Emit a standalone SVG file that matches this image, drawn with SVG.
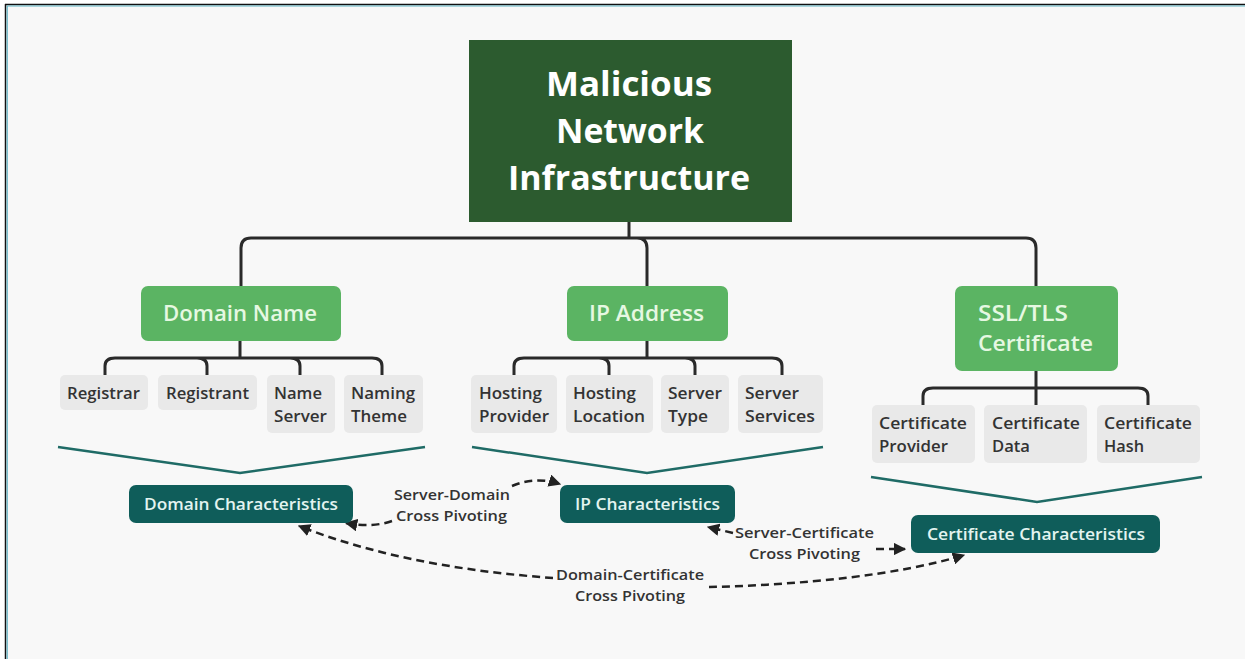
<svg xmlns="http://www.w3.org/2000/svg" width="1245" height="659" viewBox="0 0 1245 659">
<defs>
<style>
.bg{fill:#f8f8f8}
.tree{fill:none;stroke:#2a2a2a;stroke-width:3;stroke-linecap:round;stroke-linejoin:round}
.chev{fill:none;stroke:#1f6b66;stroke-width:2.5}
.dash{fill:none;stroke:#222;stroke-width:2.5;stroke-dasharray:8 5}
.main{fill:#2c5b2f}
.cat{fill:#5bb463}
.leaf{fill:#e9e9e9}
.tea{fill:#0f5d5a}
.tmain{font-family:"Open Sans","Liberation Sans",sans-serif;font-weight:700;font-size:34px;fill:#ffffff;text-anchor:middle}
.tcat{font-family:"Open Sans","Liberation Sans",sans-serif;font-weight:600;font-size:21px;fill:#e6f8e2}
.tleaf{font-family:"Open Sans","Liberation Sans",sans-serif;font-weight:600;font-size:16.5px;fill:#333}
.ttea{font-family:"Open Sans","Liberation Sans",sans-serif;font-weight:600;font-size:16px;fill:#e3f4f0}
.tlab{font-family:"Open Sans","Liberation Sans",sans-serif;font-weight:600;font-size:14.5px;fill:#333}
</style>
<marker id="ah" viewBox="0 0 10 10" refX="9" refY="5" markerWidth="5" markerHeight="5" orient="auto-start-reverse" markerUnits="strokeWidth">
<path d="M0,0 L10,5 L0,10 z" fill="#222"/>
</marker>
</defs>
<rect x="0" y="0" width="1245" height="659" fill="#ffffff"/>
<rect x="6" y="4" width="1239" height="655" class="bg"/>
<line x1="5" y1="4.5" x2="1245" y2="4.5" stroke="#111" stroke-width="1.5"/>
<line x1="7" y1="6" x2="1245" y2="6" stroke="#5fb3c4" stroke-width="1.2"/>
<line x1="5.5" y1="4" x2="5.5" y2="659" stroke="#111" stroke-width="1.5"/>
<line x1="7.2" y1="6" x2="7.2" y2="659" stroke="#5fb3c4" stroke-width="1.2"/>

<g id="connectors">
<path class="tree" d="M629,222 V238 M251,238 H1026 Q1036,238 1036,248 V286 M251,238 Q241,238 241,248 V286 M637,238 Q647,238 647,248 V286"/>
<path class="tree" d="M240,341 V358 M115,358 H372 Q382,358 382,366 V375 M115,358 Q105,358 105,366 V375 M197,358 Q207,358 207,366 V375 M290,358 Q300,358 300,366 V375"/>
<path class="tree" d="M647,341 V358 M524,358 H772 Q782,358 782,366 V375 M524,358 Q514,358 514,366 V375 M599,358 Q609,358 609,366 V375 M685,358 Q695,358 695,366 V375"/>
<path class="tree" d="M1036,371 V405 M933,388 H1138 Q1148,388 1148,396 V405 M933,388 Q923,388 923,396 V405"/>
<path class="chev" d="M58,447 L240,473 L425,447"/>
<path class="chev" d="M472,447 L647,473 L823,447"/>
<path class="chev" d="M871,477 L1037,502 L1202,477"/>
<path class="dash" d="M392,521 Q372,528 346,523" marker-end="url(#ah)"/>
<path class="dash" d="M512,486 Q535,476 560,484" marker-end="url(#ah)"/>
<path class="dash" d="M733,533 L708,527" marker-end="url(#ah)"/>
<path class="dash" d="M876,549 L905,549" marker-end="url(#ah)"/>
<path class="dash" d="M553,578 C470,572 380,558 299,526" marker-end="url(#ah)"/>
<path class="dash" d="M709,587 C800,585 900,575 964,555" marker-end="url(#ah)"/>
</g>

<g id="label-server-domain">
<text class="tlab" x="394" y="500" textLength="116" lengthAdjust="spacingAndGlyphs">Server-Domain</text>
<text class="tlab" x="396" y="521" textLength="111" lengthAdjust="spacingAndGlyphs">Cross Pivoting</text>
</g>
<g id="label-server-certificate">
<text class="tlab" x="735" y="538" textLength="139" lengthAdjust="spacingAndGlyphs">Server-Certificate</text>
<text class="tlab" x="749" y="559" textLength="111" lengthAdjust="spacingAndGlyphs">Cross Pivoting</text>
</g>
<g id="label-domain-certificate">
<text class="tlab" x="556" y="580" textLength="148" lengthAdjust="spacingAndGlyphs">Domain-Certificate</text>
<text class="tlab" x="575" y="601" textLength="110" lengthAdjust="spacingAndGlyphs">Cross Pivoting</text>
</g>

<g id="main">
<rect class="main" x="469" y="40" width="323" height="182"/>
<text class="tmain" x="629" y="96" textLength="166" lengthAdjust="spacingAndGlyphs">Malicious</text>
<text class="tmain" x="630" y="143" textLength="148" lengthAdjust="spacingAndGlyphs">Network</text>
<text class="tmain" x="629" y="190" textLength="242" lengthAdjust="spacingAndGlyphs">Infrastructure</text>
</g>

<g id="domain-name">
<rect class="cat" x="141" y="286" width="200" height="55" rx="7"/>
<text class="tcat" x="163" y="321" textLength="154" lengthAdjust="spacingAndGlyphs">Domain Name</text>
</g>
<g id="ip-address">
<rect class="cat" x="567" y="286" width="161" height="55" rx="7"/>
<text class="tcat" x="589" y="321" textLength="115" lengthAdjust="spacingAndGlyphs">IP Address</text>
</g>
<g id="ssl-tls">
<rect class="cat" x="955" y="286" width="163" height="85" rx="7"/>
<text class="tcat" x="978" y="321" textLength="90" lengthAdjust="spacingAndGlyphs">SSL/TLS</text>
<text class="tcat" x="978" y="351" textLength="115" lengthAdjust="spacingAndGlyphs">Certificate</text>
</g>

<g id="registrar">
<rect class="leaf" x="60" y="375" width="88" height="35" rx="5"/>
<text class="tleaf" x="67" y="399" textLength="73" lengthAdjust="spacingAndGlyphs">Registrar</text>
</g>
<g id="registrant">
<rect class="leaf" x="158" y="375" width="99" height="35" rx="5"/>
<text class="tleaf" x="166" y="399" textLength="83" lengthAdjust="spacingAndGlyphs">Registrant</text>
</g>
<g id="name-server">
<rect class="leaf" x="267" y="375" width="68" height="58" rx="5"/>
<text class="tleaf" x="274" y="399" textLength="48" lengthAdjust="spacingAndGlyphs">Name</text>
<text class="tleaf" x="274" y="422" textLength="53" lengthAdjust="spacingAndGlyphs">Server</text>
</g>
<g id="naming-theme">
<rect class="leaf" x="344" y="375" width="79" height="58" rx="5"/>
<text class="tleaf" x="351" y="399" textLength="64" lengthAdjust="spacingAndGlyphs">Naming</text>
<text class="tleaf" x="351" y="422" textLength="56" lengthAdjust="spacingAndGlyphs">Theme</text>
</g>

<g id="hosting-provider">
<rect class="leaf" x="471" y="375" width="86" height="58" rx="5"/>
<text class="tleaf" x="479" y="399" textLength="63" lengthAdjust="spacingAndGlyphs">Hosting</text>
<text class="tleaf" x="479" y="422" textLength="70" lengthAdjust="spacingAndGlyphs">Provider</text>
</g>
<g id="hosting-location">
<rect class="leaf" x="566" y="375" width="87" height="58" rx="5"/>
<text class="tleaf" x="573" y="399" textLength="63" lengthAdjust="spacingAndGlyphs">Hosting</text>
<text class="tleaf" x="573" y="422" textLength="72" lengthAdjust="spacingAndGlyphs">Location</text>
</g>
<g id="server-type">
<rect class="leaf" x="661" y="375" width="68" height="58" rx="5"/>
<text class="tleaf" x="668" y="399" textLength="54" lengthAdjust="spacingAndGlyphs">Server</text>
<text class="tleaf" x="668" y="422" textLength="40" lengthAdjust="spacingAndGlyphs">Type</text>
</g>
<g id="server-services">
<rect class="leaf" x="738" y="375" width="85" height="58" rx="5"/>
<text class="tleaf" x="745" y="399" textLength="54" lengthAdjust="spacingAndGlyphs">Server</text>
<text class="tleaf" x="745" y="422" textLength="70" lengthAdjust="spacingAndGlyphs">Services</text>
</g>

<g id="certificate-provider">
<rect class="leaf" x="872" y="405" width="103" height="58" rx="5"/>
<text class="tleaf" x="879" y="429" textLength="88" lengthAdjust="spacingAndGlyphs">Certificate</text>
<text class="tleaf" x="879" y="452" textLength="69" lengthAdjust="spacingAndGlyphs">Provider</text>
</g>
<g id="certificate-data">
<rect class="leaf" x="984" y="405" width="103" height="58" rx="5"/>
<text class="tleaf" x="992" y="429" textLength="88" lengthAdjust="spacingAndGlyphs">Certificate</text>
<text class="tleaf" x="992" y="452" textLength="38" lengthAdjust="spacingAndGlyphs">Data</text>
</g>
<g id="certificate-hash">
<rect class="leaf" x="1097" y="405" width="103" height="58" rx="5"/>
<text class="tleaf" x="1104" y="429" textLength="88" lengthAdjust="spacingAndGlyphs">Certificate</text>
<text class="tleaf" x="1104" y="452" textLength="40" lengthAdjust="spacingAndGlyphs">Hash</text>
</g>

<g id="domain-characteristics">
<rect class="tea" x="129" y="485" width="224" height="38" rx="7"/>
<text class="ttea" x="144" y="510" textLength="194" lengthAdjust="spacingAndGlyphs">Domain Characteristics</text>
</g>
<g id="ip-characteristics">
<rect class="tea" x="560" y="485" width="175" height="38" rx="7"/>
<text class="ttea" x="575" y="510" textLength="145" lengthAdjust="spacingAndGlyphs">IP Characteristics</text>
</g>
<g id="certificate-characteristics">
<rect class="tea" x="911" y="515" width="249" height="38" rx="7"/>
<text class="ttea" x="927" y="540" textLength="218" lengthAdjust="spacingAndGlyphs">Certificate Characteristics</text>
</g>
</svg>
